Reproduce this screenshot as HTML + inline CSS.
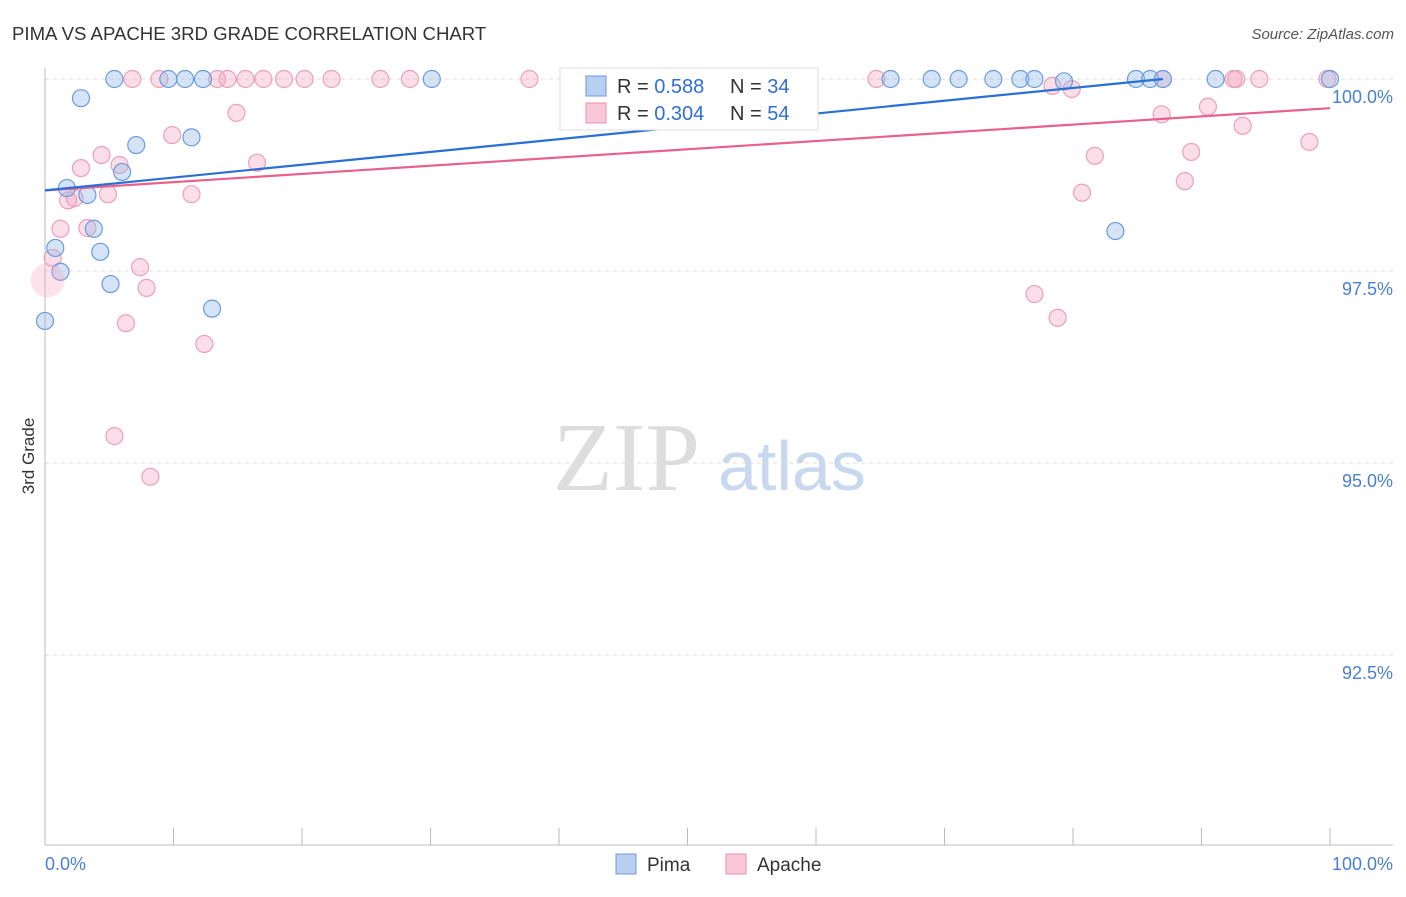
<!DOCTYPE html>
<html><head><meta charset="utf-8"><style>
body{margin:0;background:#fff;font-family:"Liberation Sans",sans-serif;}
</style></head><body>
<svg width="1406" height="892" viewBox="0 0 1406 892" xmlns="http://www.w3.org/2000/svg" style="font-family:'Liberation Sans',sans-serif">
<text x="12" y="40" font-size="18.6" fill="#333">PIMA VS APACHE 3RD GRADE CORRELATION CHART</text>
<text x="1394" y="39" font-size="15" fill="#555" font-style="italic" text-anchor="end">Source: ZipAtlas.com</text>
<text x="553" y="490" font-size="98" fill="#ddd" style="font-family:'Liberation Serif',serif">ZIP</text>
<text x="718" y="490" font-size="70" fill="#c8d8ee">atlas</text>
<g id="grid"></g>
<line x1="45" y1="68" x2="45" y2="845" stroke="#bbb"/>
<line x1="45" y1="845" x2="1393" y2="845" stroke="#bbb"/>
<text transform="translate(34,456) rotate(-90)" font-size="17" fill="#333" text-anchor="middle">3rd Grade</text>
<text x="45" y="870" font-size="18" fill="#4a7fd4">0.0%</text>
<text x="1393" y="870" font-size="18" fill="#4a7fd4" text-anchor="end">100.0%</text>
<g id="points"></g>
<g id="lines"></g>
<g>
<rect x="560" y="68" width="258" height="62" fill="#fff" stroke="#ddd"/>
<rect x="586" y="76" width="20" height="20" fill="#b8cff0" stroke="#6a9be0"/>
<rect x="586" y="103" width="20" height="20" fill="#f8c8d6" stroke="#e890ac"/>
<text x="617" y="93" font-size="20" fill="#333">R = <tspan fill="#2f6fd6">0.588</tspan></text>
<text x="730" y="93" font-size="20" fill="#333">N = <tspan fill="#2f6fd6">34</tspan></text>
<text x="617" y="120" font-size="20" fill="#333">R = <tspan fill="#2f6fd6">0.304</tspan></text>
<text x="730" y="120" font-size="20" fill="#333">N = <tspan fill="#2f6fd6">54</tspan></text>
</g>
<g><rect x="616" y="854" width="20" height="20" fill="#b8cff0" stroke="#6a9be0"/><text x="647" y="871" font-size="19" fill="#333">Pima</text></g>
<g><rect x="726" y="854" width="20" height="20" fill="#f8c8d6" stroke="#e890ac"/><text x="757" y="871" font-size="19" fill="#333">Apache</text></g>
</svg>
<script>
const yTicks=[100,97.5,95,92.5];
const yTickLabels=["100.0%","97.5%","95.0%","92.5%"];
const xTicks=[0,10,20,30,40,50,60,70,80,90,100];
const pimaX=[5.4,9.6,10.9,12.3,30.1,65.8,69.0,71.1,73.8,75.9,77.0,79.3,84.9,86.0,87.0,91.1,100,2.8,7.1,11.4,6.0,1.7,3.3,3.8,0.8,4.3,1.2,5.1,13.0,0,83.3,48.0];
const pimaY=[100,100,100,100,100,100,100,100,100,100,100,99.97,100,100,100,100,100,99.75,99.14,99.24,98.79,98.58,98.49,98.05,97.80,97.75,97.49,97.33,97.01,96.85,98.02,100];
const apacheX=[6.8,8.9,13.4,14.2,15.6,17.0,18.6,20.2,22.3,26.1,28.4,37.7,64.7,92.5,94.5,99.8,92.7,78.4,79.9,87.0,4.4,9.9,14.9,2.8,5.8,16.5,1.8,2.3,4.9,11.4,1.2,3.3,0.6,7.4,7.9,6.3,12.4,5.4,8.2,90.5,86.9,93.2,98.4,81.7,89.2,80.7,88.7,77.0,78.8];
const apacheY=[100,100,100,100,100,100,100,100,100,100,100,100,100,100,100,100,100,99.91,99.87,100,99.01,99.27,99.56,98.84,98.88,98.91,98.42,98.45,98.50,98.50,98.05,98.06,97.67,97.55,97.28,96.82,96.55,95.35,94.82,99.64,99.54,99.39,99.18,99.0,99.05,98.52,98.67,97.20,96.89];
const pimaTrendX=[0,87], pimaTrendY=[98.55,100];
const apacheTrendX=[0,100], apacheTrendY=[98.55,99.62];
const xs=v=>45+v*12.85, ys=v=>79+(100-v)*76.8;
const NS="http://www.w3.org/2000/svg";
const mk=(t,a,p)=>{const e=document.createElementNS(NS,t);for(const k in a)e.setAttribute(k,a[k]);p.appendChild(e);return e;};
const grid=document.getElementById('grid');
yTicks.forEach((v,i)=>{
 const l=mk('line',{x1:45,x2:1393,y1:ys(v),y2:ys(v),stroke:'#ddd','stroke-dasharray':'4,4'},grid);
 
 
 const t=mk('text',{x:1393,y:ys(v)+24,'font-size':18,fill:'#4a7fd4','text-anchor':'end'},grid);
 t.textContent=yTickLabels[i];
 
 
});
xTicks.forEach(v=>{
 const l=mk('line',{x1:xs(v),x2:xs(v),y1:828,y2:845,stroke:'#bbb'},grid);
 
 
});
const pts=document.getElementById('points');
apacheX.forEach((v,i)=>{
 const c=mk('circle',{cx:xs(v),cy:ys(apacheY[i]),r:8.5,fill:'rgba(244,160,188,0.35)',stroke:'#eca0b8','stroke-width':1.2},pts);
 
 
});
pimaX.forEach((v,i)=>{
 const c=mk('circle',{cx:xs(v),cy:ys(pimaY[i]),r:8.5,fill:'rgba(150,185,235,0.4)',stroke:'#6a9be0','stroke-width':1.2},pts);
 
 
});
const big=mk('circle',{cx:xs(0.2),cy:ys(97.38),r:17,fill:'rgba(244,160,188,0.3)',stroke:'none'},pts);


const ln=document.getElementById('lines');
const p=mk('line',{x1:xs(apacheTrendX[0]),y1:ys(apacheTrendY[0]),x2:xs(apacheTrendX[1]),y2:ys(apacheTrendY[1]),stroke:'#e8608c','stroke-width':2.2},ln);


const b=mk('line',{x1:xs(pimaTrendX[0]),y1:ys(pimaTrendY[0]),x2:xs(pimaTrendX[1]),y2:ys(pimaTrendY[1]),stroke:'#2a6fd6','stroke-width':2.2},ln);


</script>
</body></html>
